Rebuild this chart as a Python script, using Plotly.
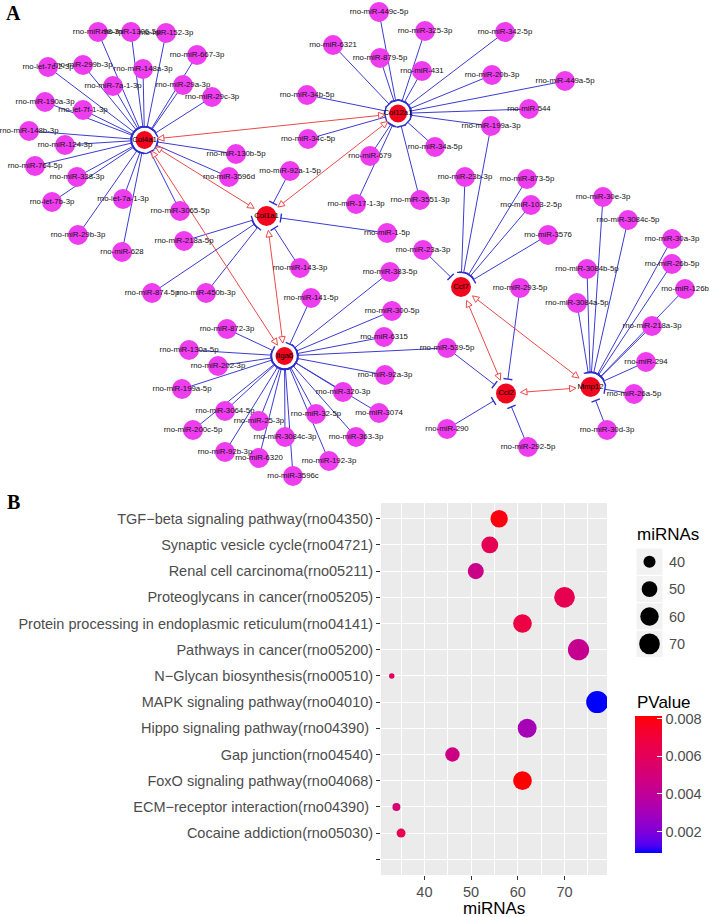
import math
import plotly.graph_objects as go

# ---------------- Panel A : network data ----------------
gene_names = ["Col4a1", "Col12a1", "Col1a1", "Itga6", "Ccl7", "Ccl2", "Mmp12"]
gene_x = [144.5, 398, 266.5, 284.5, 461, 506, 590.5]
gene_y = [140, 113.5, 216, 356, 287, 393.5, 387]

# gene-gene interactions (drawn with arrows on both ends)
link_from = ["Col4a1", "Col4a1", "Col4a1", "Col12a1", "Col1a1", "Ccl7", "Ccl7", "Ccl2"]
link_to = ["Col12a1", "Col1a1", "Itga6", "Col1a1", "Itga6", "Ccl2", "Mmp12", "Mmp12"]

mirna_names = [
    "rno-miR-98-3p", "rno-miR-1306-5p", "rno-miR-152-3p", "rno-miR-667-3p", "rno-let-7c-2-3p",
    "rno-miR-299b-3p", "rno-miR-148a-3p", "rno-miR-7a-1-3p", "rno-miR-29a-3p", "rno-miR-29c-3p",
    "rno-miR-190a-3p", "rno-let-7f-1-3p", "rno-miR-148b-3p", "rno-miR-124-3p", "rno-miR-764-5p",
    "rno-miR-338-3p", "rno-let-7b-3p", "rno-let-7a-1-3p", "rno-miR-29b-3p", "rno-miR-628",
    "rno-miR-3065-5p", "rno-miR-130b-5p", "rno-miR-3596d",
    "rno-miR-449c-5p", "rno-miR-325-3p", "rno-miR-6321", "rno-miR-879-5p", "rno-miR-431",
    "rno-miR-34b-5p", "rno-miR-34c-5p", "rno-miR-679", "rno-miR-34a-5p", "rno-miR-17-1-3p",
    "rno-miR-3551-3p", "rno-miR-342-5p", "rno-miR-20b-3p", "rno-miR-449a-5p", "rno-miR-544",
    "rno-miR-199a-3p",
    "rno-miR-92a-1-5p", "rno-miR-143-3p", "rno-miR-1-5p", "rno-miR-218a-5p", "rno-miR-874-5p",
    "rno-miR-450b-3p",
    "rno-miR-23b-3p", "rno-miR-873-5p", "rno-miR-103-2-5p", "rno-miR-3576", "rno-miR-23a-3p",
    "rno-miR-141-5p", "rno-miR-383-5p", "rno-miR-300-5p", "rno-miR-6315", "rno-miR-539-5p",
    "rno-miR-92a-3p", "rno-miR-320-3p", "rno-miR-3074", "rno-miR-32-5p", "rno-miR-363-3p",
    "rno-miR-192-3p", "rno-miR-3596c", "rno-miR-6320", "rno-miR-92b-3p", "rno-miR-3084c-3p",
    "rno-miR-25-3p", "rno-miR-200c-5p", "rno-miR-3064-5p", "rno-miR-199a-5p", "rno-miR-202-3p",
    "rno-miR-130a-5p", "rno-miR-872-3p",
    "rno-miR-293-5p", "rno-miR-290", "rno-miR-292-5p",
    "rno-miR-30e-3p", "rno-miR-3084c-5p", "rno-miR-30a-3p", "rno-miR-3084b-5p", "rno-miR-26b-5p",
    "rno-miR-126b", "rno-miR-3084a-5p", "rno-miR-218a-3p", "rno-miR-294", "rno-miR-26a-5p",
    "rno-miR-30d-3p",
]
mirna_x = [
    98, 131, 166, 197, 48, 83, 143, 113, 183, 212, 45, 83, 29, 65, 35, 77, 52, 123, 78, 122, 180, 236, 229,
    379, 425, 333, 380, 422, 307, 308, 370, 435, 356, 420, 505, 492, 565, 529, 491,
    290, 300, 387, 184, 152, 206,
    465, 527, 531, 548, 423,
    311, 390, 392, 384, 447, 385, 343, 379, 316, 356, 329, 293, 259, 225, 285, 259, 193, 225, 182, 218,
    189, 227,
    520, 447, 528,
    603, 628, 672, 587, 672, 685, 577, 652, 646, 634, 607,
]
mirna_y = [
    32, 32, 33, 55, 67, 65, 69, 86, 85, 97, 102, 110, 131, 145, 166, 177, 202, 199, 235, 252, 211, 154, 177,
    12, 31, 45, 58, 71, 95, 139, 156, 147, 204, 200, 32, 75, 81, 109, 126,
    171, 268, 233, 241, 293, 293,
    177, 179, 205, 235, 250,
    298, 272, 311, 337, 348, 375, 392, 413, 414, 437, 461, 476, 458, 452, 437, 421, 430, 411, 389, 366,
    350, 329,
    288, 429, 447,
    197, 220, 239, 269, 264, 289, 303, 326, 362, 394, 430,
]
mirna_targets = (
    ["Col4a1"] * 23
    + ["Col12a1"] * 15 + ["Col12a1;Ccl7"]
    + ["Col1a1"] * 6
    + ["Ccl7"] * 5
    + ["Itga6"] * 4 + ["Itga6;Ccl2"] + ["Itga6"] * 17
    + ["Ccl2"] * 3
    + ["Mmp12"] * 11
)

# ---------------- Panel B : KEGG enrichment data ----------------
pathways = [
    "TGF\u2212beta signaling pathway(rno04350)",
    "Synaptic vesicle cycle(rno04721)",
    "Renal cell carcinoma(rno05211)",
    "Proteoglycans in cancer(rno05205)",
    "Protein processing in endoplasmic reticulum(rno04141)",
    "Pathways in cancer(rno05200)",
    "N\u2212Glycan biosynthesis(rno00510)",
    "MAPK signaling pathway(rno04010)",
    "Hippo signaling pathway(rno04390)\u00a0",
    "Gap junction(rno04540)",
    "FoxO signaling pathway(rno04068)",
    "ECM\u2212receptor interaction(rno04390)\u00a0",
    "Cocaine addiction(rno05030)",
    "",
]
mirna_counts = [56, 54, 51, 70, 61, 73, 33, 77, 62, 46, 61, 34, 35]
pvalues = [0.00796, 0.00614, 0.00453, 0.00636, 0.00672, 0.00431, 0.00584,
           0.00088, 0.00307, 0.00468, 0.00818, 0.00526, 0.00636]
x_ticks = [40, 50, 60, 70]
pv_ticks = [0.002, 0.004, 0.006, 0.008]
size_legend_values = [40, 50, 60, 70]

# ---------------- helpers ----------------
W, H = 709, 917
AX_FONT = "Liberation Sans"
TICK_SIZE = 14.5
TITLE_SIZE = 17


def px(x):
    return x / W


def py(y):
    return 1 - y / H


def lab_from_rgb(c):
    def lin(v):
        v /= 255.0
        return v / 12.92 if v <= 0.04045 else ((v + 0.055) / 1.055) ** 2.4
    r, g, b = (lin(v) for v in c)
    X = (0.4124 * r + 0.3576 * g + 0.1805 * b) / 0.95047
    Y = 0.2126 * r + 0.7152 * g + 0.0722 * b
    Z = (0.0193 * r + 0.1192 * g + 0.9505 * b) / 1.08883

    def f(t):
        return t ** (1 / 3) if t > (6 / 29) ** 3 else t / (3 * (6 / 29) ** 2) + 4 / 29
    return 116 * f(Y) - 16, 500 * (f(X) - f(Y)), 200 * (f(Y) - f(Z))


def rgb_from_lab(L, a, b):
    fy = (L + 16) / 116
    fx, fz = fy + a / 500, fy - b / 200

    def finv(t):
        return t ** 3 if t > 6 / 29 else 3 * (6 / 29) ** 2 * (t - 4 / 29)
    X, Y, Z = 0.95047 * finv(fx), finv(fy), 1.08883 * finv(fz)
    r = 3.2406 * X - 1.5372 * Y - 0.4986 * Z
    g = -0.9689 * X + 1.8758 * Y + 0.0415 * Z
    bb = 0.0557 * X - 0.2040 * Y + 1.0570 * Z

    def gam(v):
        v = min(max(v, 0), 1)
        v = 12.92 * v if v <= 0.0031308 else 1.055 * v ** (1 / 2.4) - 0.055
        return int(round(v * 255))
    return "rgb(%d,%d,%d)" % (gam(r), gam(g), gam(bb))


lo, hi = lab_from_rgb((0, 0, 255)), lab_from_rgb((255, 0, 0))
colorscale = []
for i in range(21):
    t = i / 20
    colorscale.append([t, rgb_from_lab(*[lo[k] + (hi[k] - lo[k]) * t for k in range(3)])])

HUBS = {"Col4a1", "Col12a1", "Itga6"}
gidx = {g: i for i, g in enumerate(gene_names)}


def ring(g):
    return 13.0 if g in HUBS else 14.5


# ---------------- network geometry ----------------
blue_x, blue_y, bar_x, bar_y = [], [], [], []
for x, y, tg in zip(mirna_x, mirna_y, mirna_targets):
    for g in tg.split(";"):
        tx, ty = gene_x[gidx[g]], gene_y[gidx[g]]
        dx, dy = tx - x, ty - y
        d = math.hypot(dx, dy)
        ux, uy = dx / d, dy / d
        r = ring(g)
        cx, cy = tx - ux * r, ty - uy * r
        blue_x += [x, cx, None]
        blue_y += [y, cy, None]
        nx, ny = -uy, ux
        bar_x += [cx + nx * 4.5, cx - nx * 4.5, None]
        bar_y += [cy + ny * 4.5, cy - ny * 4.5, None]

red_x, red_y, arr_x, arr_y = [], [], [], []
AL, AW = 6.5, 3.2
for a, b in zip(link_from, link_to):
    ax, ay = gene_x[gidx[a]], gene_y[gidx[a]]
    bx, by = gene_x[gidx[b]], gene_y[gidx[b]]
    dx, dy = bx - ax, by - ay
    d = math.hypot(dx, dy)
    ux, uy = dx / d, dy / d
    nx, ny = -uy, ux
    tbx, tby = bx - ux * ring(b), by - uy * ring(b)
    bbx, bby = tbx - ux * AL, tby - uy * AL
    tax, tay = ax + ux * ring(a), ay + uy * ring(a)
    bax, bay = tax + ux * AL, tay + uy * AL
    red_x += [bax, bbx, None]
    red_y += [bay, bby, None]
    for (tx, ty, sx, sy) in [(tbx, tby, bbx, bby), (tax, tay, bax, bay)]:
        arr_x += [tx, sx + nx * AW, sx - nx * AW, tx, None]
        arr_y += [ty, sy + ny * AW, sy - ny * AW, ty, None]

fig = go.Figure()
NET = dict(xaxis="x2", yaxis="y2", hoverinfo="skip", showlegend=False)

fig.add_trace(go.Scatter(x=blue_x, y=blue_y, mode="lines",
                         line=dict(color="#3C3CD2", width=1), **NET))
fig.add_trace(go.Scatter(x=red_x, y=red_y, mode="lines",
                         line=dict(color="#EC4A4A", width=1), **NET))
fig.add_trace(go.Scatter(x=bar_x, y=bar_y, mode="lines",
                         line=dict(color="#2E2ECC", width=1.4), **NET))
fig.add_trace(go.Scatter(x=arr_x, y=arr_y, mode="lines", fill="toself", fillcolor="white",
                         line=dict(color="#EC4A4A", width=1), **NET))
fig.add_trace(go.Scatter(x=mirna_x, y=mirna_y, mode="markers",
                         marker=dict(size=20, color="#EE3DEE", opacity=1, line=dict(width=0)), **NET))
fig.add_trace(go.Scatter(x=gene_x, y=gene_y, mode="markers",
                         marker=dict(size=[18 if g in HUBS else 20 for g in gene_names],
                                     color="#F0061E", opacity=1, line=dict(width=0)), **NET))
fig.add_trace(go.Scatter(x=mirna_x, y=mirna_y, mode="text", text=mirna_names,
                         textposition="middle center",
                         textfont=dict(family="Liberation Sans", size=7.8, color="#111111"), **NET))
fig.add_trace(go.Scatter(x=gene_x, y=gene_y, mode="text", text=gene_names,
                         textposition="middle center",
                         textfont=dict(family="Liberation Sans", size=7.8, color="#000000"), **NET))

# ---------------- Panel B ----------------
vmin, vmax = min(mirna_counts), max(mirna_counts)


def dot_size(v):
    return 5.5 + 16.5 * math.sqrt((v - vmin) / (vmax - vmin))


n_cat = len(pathways)
y_pos = [n_cat - i for i in range(n_cat)]  # top category gets highest index
pmin, pmax = min(pvalues), max(pvalues)

CB_TOP, CB_BOT, CB_X0, CB_W = 715.5, 852.5, 635, 27
fig.add_trace(go.Scatter(
    x=mirna_counts, y=y_pos[:len(mirna_counts)], mode="markers", xaxis="x", yaxis="y",
    hoverinfo="skip", showlegend=False,
    marker=dict(size=[dot_size(v) for v in mirna_counts], color=pvalues, colorscale=colorscale,
                cmin=pmin, cmax=pmax, line=dict(width=0), opacity=1,
                colorbar=dict(x=px(CB_X0), xanchor="left", y=py((CB_TOP + CB_BOT) / 2), yanchor="middle",
                              len=CB_BOT - CB_TOP, lenmode="pixels", thickness=CB_W, thicknessmode="pixels",
                              xpad=0, ypad=0, outlinewidth=0, tickvals=pv_ticks,
                              ticktext=["%.3f" % v for v in pv_ticks], ticks="inside",
                              ticklen=5, tickcolor="white", tickwidth=1,
                              tickfont=dict(family=AX_FONT, size=TICK_SIZE, color="#4D4D4D"),
                              title=dict(text="")),
                showscale=True)))

# size legend drawn on the page-pixel axes
key_top = 548
key_h = 27.4
key_cy = [key_top + key_h * (i + 0.5) for i in range(len(size_legend_values))]
fig.add_trace(go.Scatter(x=[649.5] * len(size_legend_values), y=key_cy, mode="markers",
                         marker=dict(size=[dot_size(v) for v in size_legend_values], color="#000000",
                                     opacity=1, line=dict(width=0)), **NET))

shapes = [dict(type="rect", xref="x domain", yref="y domain", x0=0, x1=1, y0=0, y1=1,
               fillcolor="#EBEBEB", line=dict(width=0), layer="below")]
for cy in key_cy:
    shapes.append(dict(type="rect", xref="paper", yref="paper", x0=px(636), x1=px(663),
                       y0=py(cy + key_h / 2), y1=py(cy - key_h / 2), fillcolor="#F2F2F2",
                       line=dict(color="white", width=1), layer="below"))
# white tick marks on the left edge of the colour bar (ggplot draws them on both sides)
for v in pv_ticks:
    yy = CB_BOT - (v - pmin) / (pmax - pmin) * (CB_BOT - CB_TOP)
    shapes.append(dict(type="line", xref="paper", yref="paper", x0=px(CB_X0), x1=px(CB_X0 + 5),
                       y0=py(yy), y1=py(yy), line=dict(color="white", width=1), layer="above"))

annotations = [
    dict(text="<b>A</b>", x=px(13), y=py(13), xref="paper", yref="paper", showarrow=False,
         xanchor="center", yanchor="middle", font=dict(family="Liberation Serif", size=20, color="black")),
    dict(text="<b>B</b>", x=px(13), y=py(502), xref="paper", yref="paper", showarrow=False,
         xanchor="center", yanchor="middle", font=dict(family="Liberation Serif", size=20, color="black")),
    dict(text="miRNAs", x=px(494), y=py(908), xref="paper", yref="paper", showarrow=False,
         xanchor="center", yanchor="middle", font=dict(family=AX_FONT, size=TITLE_SIZE, color="black")),
    dict(text="miRNAs", x=px(635), y=py(534), xref="paper", yref="paper", showarrow=False,
         xanchor="left", yanchor="middle", font=dict(family=AX_FONT, size=TITLE_SIZE, color="black")),
    dict(text="PValue", x=px(635), y=py(702), xref="paper", yref="paper", showarrow=False,
         xanchor="left", yanchor="middle", font=dict(family=AX_FONT, size=TITLE_SIZE, color="black")),
]
for v, cy in zip(size_legend_values, key_cy):
    annotations.append(dict(text=str(v), x=px(667), y=py(cy), xref="paper", yref="paper",
                            showarrow=False, xanchor="left", yanchor="middle",
                            font=dict(family=AX_FONT, size=TICK_SIZE, color="#4D4D4D")))

fig.update_layout(
    template="none",
    width=W, height=H, margin=dict(l=0, r=0, t=0, b=0),
    paper_bgcolor="white", plot_bgcolor="rgba(0,0,0,0)",
    font=dict(family=AX_FONT, color="#4D4D4D"),
    showlegend=False,
    xaxis=dict(domain=[px(381), px(607)], range=[30.7, 79.1], tickvals=x_ticks,
               ticks="outside", ticklen=4, tickwidth=1, tickcolor="#333333",
               showgrid=True, gridcolor="white", gridwidth=1.1,
               minor=dict(dtick=5, tick0=0, showgrid=True, gridcolor="white", gridwidth=0.55),
               zeroline=False, showline=False, automargin=False, fixedrange=True,
               tickfont=dict(family=AX_FONT, size=TICK_SIZE, color="#4D4D4D"), anchor="y"),
    yaxis=dict(domain=[py(875), py(503)], range=[0.4, n_cat + 0.6], tickvals=y_pos,
               ticktext=pathways, ticks="outside", ticklen=4, tickwidth=1, tickcolor="#333333",
               showgrid=True, gridcolor="white", gridwidth=1.1, zeroline=False, showline=False,
               automargin=False, fixedrange=True,
               tickfont=dict(family=AX_FONT, size=TICK_SIZE, color="#4D4D4D"), anchor="x"),
    xaxis2=dict(domain=[0, 1], range=[0, W], visible=False, fixedrange=True, anchor="y2"),
    yaxis2=dict(domain=[0, 1], range=[H, 0], visible=False, fixedrange=True, anchor="x2"),
    shapes=shapes, annotations=annotations,
)

fig.write_html("out.html", config={"displayModeBar": False},
               post_script="document.body.style.margin='0';document.body.style.overflow='hidden';")
